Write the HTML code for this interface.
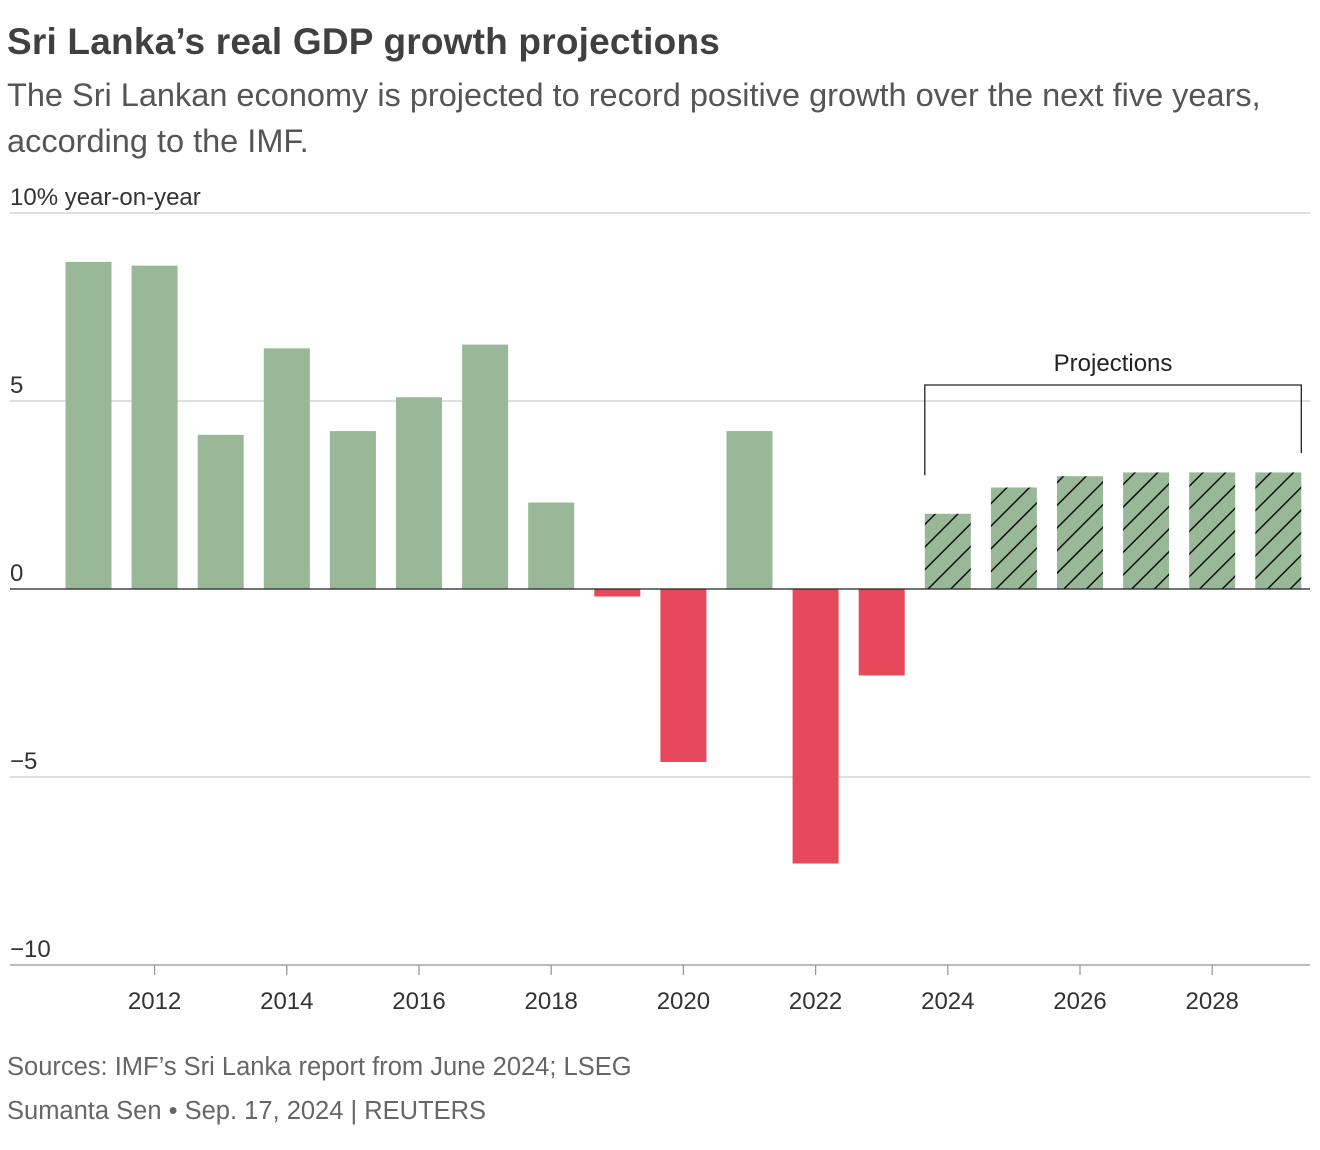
<!DOCTYPE html>
<html><head><meta charset="utf-8"><style>
body{margin:0;background:#fff;font-family:"Liberation Sans",sans-serif;width:1320px;height:1150px;overflow:hidden;position:relative}
.t{position:absolute;left:7px;white-space:nowrap}
</style></head><body>
<div class="t" style="top:21px;font-size:37px;font-weight:bold;color:#404040;letter-spacing:0.2px">Sri Lanka’s real GDP growth projections</div>
<div class="t" style="top:72px;font-size:32.5px;color:#555;line-height:46px;letter-spacing:0">The Sri Lankan economy is projected to record positive growth over the next five years,<br>according to the IMF.</div>
<svg id="chart" width="1320" height="1150" style="position:absolute;left:0;top:0">
<defs><pattern id="hatch" patternUnits="userSpaceOnUse" width="16" height="16" patternTransform="rotate(45)">
<rect width="16" height="16" fill="#98b898"/><line x1="0" y1="0" x2="0" y2="16" stroke="#111" stroke-width="3"/></pattern></defs>
</svg>
<div class="t" style="top:1053px;font-size:25.5px;color:#666">Sources: IMF’s Sri Lanka report from June 2024; LSEG</div>
<div class="t" style="top:1097px;font-size:25.5px;color:#666">Sumanta Sen • Sep. 17, 2024 | REUTERS</div>
<script>
const years=[2011,2012,2013,2014,2015,2016,2017,2018,2019,2020,2021,2022,2023,2024,2025,2026,2027,2028,2029];
const growth=[8.7,8.6,4.1,6.4,4.2,5.1,6.5,2.3,-0.2,-4.6,4.2,-7.3,-2.3,2.0,2.7,3.0,3.1,3.1,3.1];
const projectedFrom=2024;
const yTicks=[10,5,0,-5,-10];
const yTickLabels=["10% year-on-year","5","0","−5","−10"];
const xTicks=[2012,2014,2016,2018,2020,2022,2024,2026,2028];
const svg=document.getElementById('chart');const NS='http://www.w3.org/2000/svg';
const y=v=>589-v*37.6;const x=yr=>88.5+(yr-2011)*66.1;const bw=46;
function mk(t,a){const e=document.createElementNS(NS,t);for(const k in a)e.setAttribute(k,a[k]);svg.appendChild(e);return e;}
yTicks.forEach((v,i)=>{
 if(v!==0){const g=mk('line',{x1:10,x2:1310,y1:y(v),y2:y(v),stroke:'#ccc','stroke-width':1.3});
 
 }
 const t=mk('text',{x:10,y:y(v)-8,'font-size':24,fill:'#333'});t.textContent=yTickLabels[i];
 
 
});
growth.forEach((v,i)=>{
 const yr=years[i];const proj=yr>=projectedFrom;
 const r=mk('rect',{x:x(yr)-bw/2,y:Math.min(y(v),y(0)),width:bw,height:Math.abs(y(v)-y(0)),fill:proj?'url(#hatch)':(v<0?'#e8485c':'#98b898')});
 
 
});
const z=mk('line',{x1:10,x2:1310,y1:y(0),y2:y(0),stroke:'#222','stroke-width':1.3});


const ax=mk('line',{x1:10,x2:1310,y1:y(-10),y2:y(-10),stroke:'#999','stroke-width':1.3});


xTicks.forEach(yr=>{
 const tk=mk('line',{x1:x(yr),x2:x(yr),y1:y(-10),y2:y(-10)+10,stroke:'#999','stroke-width':1.3});
 
 
 const t=mk('text',{x:x(yr),y:1009,'font-size':24,fill:'#333','text-anchor':'middle'});t.textContent=yr;
 
 
});
const bl=x(projectedFrom)-bw/2,br=x(years[years.length-1])+bw/2;
const b=mk('path',{d:`M${bl},${y(3)-1}V385H${br}V453`,fill:'none',stroke:'#222','stroke-width':1.3});


const pt=mk('text',{x:(bl+br)/2,y:371,'font-size':24,fill:'#222','text-anchor':'middle'});pt.textContent='Projections';


</script>
</body></html>
